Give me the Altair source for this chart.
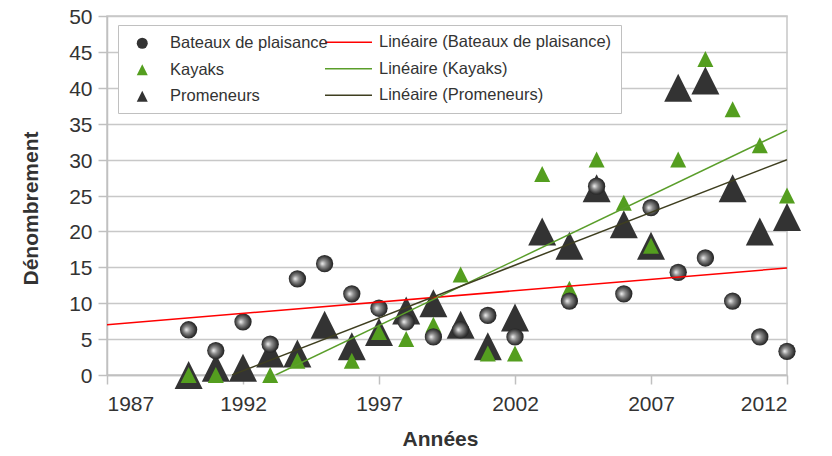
import altair as alt
import pandas as pd

# ---------------- data ----------------
bateaux_years = [1990, 1991, 1992, 1993, 1994, 1995, 1996, 1997, 1998, 1999, 2000,
                 2001, 2002, 2004, 2005, 2006, 2007, 2008, 2009, 2010, 2011, 2012]
bateaux_vals = [6.3, 3.4, 7.4, 4.3, 13.4, 15.5, 11.3, 9.3, 7.4, 5.3, 6.3,
                8.3, 5.3, 10.3, 26.3, 11.3, 23.3, 14.3, 16.3, 10.3, 5.3, 3.3]

kayak_years = [1990, 1991, 1993, 1994, 1996, 1997, 1998, 1999, 2000, 2001, 2002,
               2003, 2004, 2005, 2006, 2007, 2008, 2009, 2010, 2011, 2012]
kayak_vals = [0, 0, 0, 2, 2, 6, 5, 7, 14, 3, 3,
              28, 12, 30, 24, 18, 30, 44, 37, 32, 25]

prom_years = list(range(1990, 2013))
prom_vals = [0, 1, 1, 3, 3, 7, 4, 6, 9, 10, 7, 4, 8,
             20, 18, 26, 21, 18, 40, 41, 26, 20, 22]

# trend lines (end points)
trend_series = ["Linéaire (Bateaux de plaisance)", "Linéaire (Bateaux de plaisance)",
                "Linéaire (Kayaks)", "Linéaire (Kayaks)",
                "Linéaire (Promeneurs)", "Linéaire (Promeneurs)"]
trend_x = [1987, 2012, 1993.2, 2012, 1991.6, 2012]
trend_y = [7.0, 14.9, 0.0, 34.1, 0.0, 30.0]

point_names = ["Bateaux de plaisance", "Kayaks", "Promeneurs"]
point_colors = ["#333333", "#549e1f", "#333333"]
line_names = ["Linéaire (Bateaux de plaisance)", "Linéaire (Kayaks)", "Linéaire (Promeneurs)"]
line_colors = ["#ff0000", "#5a9e2a", "#3f3f20"]

x_ticks = [1987, 1992, 1997, 2002, 2007, 2012]
y_ticks = list(range(0, 51, 5))

# ---------------- tables ----------------
df_bat = pd.DataFrame({"year": bateaux_years, "value": bateaux_vals,
                       "series": "Bateaux de plaisance"})
df_kay = pd.DataFrame({"year": kayak_years, "value": kayak_vals, "series": "Kayaks"})
df_prom = pd.DataFrame({"year": prom_years, "value": prom_vals, "series": "Promeneurs"})
df_trend = pd.DataFrame({"year": trend_x, "value": trend_y, "series": trend_series})

FONT = "Liberation Sans"
TRI = "M0,-1L1,1L-1,1Z"

xaxis = alt.Axis(values=x_ticks, format="d", title="Années", grid=False, orient="bottom",
                 tickSize=9, labelPadding=9, labelFontSize=21, labelColor="#333333",
                 labelFont=FONT, titleFont=FONT, titleFontSize=21, titleFontWeight="bold",
                 titleColor="#333333", titleX=333, titleY=70, titleBaseline="alphabetic")
yaxis = alt.Axis(values=y_ticks, title="Dénombrement", grid=True, orient="left",
                 tickSize=9, labelPadding=6, labelFontSize=21, labelColor="#333333",
                 labelOffset=1.5,
                 labelFont=FONT, titleFont=FONT, titleFontSize=21, titleFontWeight="bold",
                 titleColor="#333333", titleX=-70, titleY=192, titleBaseline="alphabetic")

X = alt.X("year:Q", scale=alt.Scale(domain=[1987, 2012], nice=False, zero=False), axis=xaxis)
Y = alt.Y("value:Q", scale=alt.Scale(domain=[0, 50], nice=False), axis=yaxis)

leg_points = alt.Legend(
    title=None, orient="none", legendX=27, legendY=19, padding=0, rowPadding=9.5,
    clipHeight=16.5,
    labelFont=FONT, labelFontSize=16.5, labelColor="#333333", labelLimit=400,
    symbolSize=121, symbolStrokeWidth=0, labelOffset=19.5, symbolOpacity=1, zindex=2,
)
leg_lines = alt.Legend(
    title="\u00a0", titleOrient="left", titlePadding=197, titleFontSize=10, titleOpacity=0,
    orient="none", legendX=11, legendY=9, padding=9, rowPadding=9.5, clipHeight=16.5,
    strokeColor="#c0c0c0", fillColor="white",
    labelFont=FONT, labelFontSize=16.5, labelColor="#333333", labelLimit=400,
    symbolType="stroke", symbolSize=2209, symbolStrokeWidth=1.5, labelOffset=6,
    symbolOpacity=1, zindex=1,
)

pt_fill = alt.Fill("series:N", scale=alt.Scale(domain=point_names, range=point_colors),
                   legend=leg_points)
pt_shape = alt.Shape("series:N", scale=alt.Scale(domain=point_names,
                                                 range=["circle", TRI, TRI]),
                     legend=leg_points)
ln_stroke = alt.Stroke("series:N", scale=alt.Scale(domain=line_names, range=line_colors),
                       legend=leg_lines)

prom = alt.Chart(df_prom).mark_point(filled=True, opacity=1, size=784,
                                     strokeWidth=0).encode(x=X, y=Y, fill=pt_fill,
                                                           shape=pt_shape)
kay = alt.Chart(df_kay).mark_point(filled=True, opacity=1, size=256,
                                   strokeWidth=0).encode(x=X, y=Y, fill=pt_fill,
                                                         shape=pt_shape)
sphere = {"gradient": "radial", "x1": 0.36, "y1": 0.5, "r1": 0.0,
          "x2": 0.5, "y2": 0.5, "r2": 0.55,
          "stops": [{"offset": 0, "color": "#f2f2f2"},
                    {"offset": 0.35, "color": "#8c8c8c"},
                    {"offset": 0.8, "color": "#333333"},
                    {"offset": 1, "color": "#1a1a1a"}]}
bat = alt.Chart(df_bat).mark_point(filled=True, opacity=1, size=300,
                                   strokeWidth=0, fill=sphere).encode(x=X, y=Y,
                                                                      shape=pt_shape)
trend = alt.Chart(df_trend).mark_line(strokeWidth=1.5, clip=True).encode(
    x=X, y=Y, stroke=ln_stroke)

chart = alt.layer(prom, kay, bat, trend).properties(
    width=680, height=359,
    padding={"left": 99, "top": 8, "right": 37, "bottom": 73},
    autosize=alt.AutoSizeParams(type="none"),
    background="white",
).configure_view(
    stroke="#c6c6c6", strokeWidth=1.5
).configure_axis(
    domainColor="#c0c0c0", domainWidth=1.5, tickColor="#c0c0c0", tickWidth=1.5,
    gridColor="#c8c8c8", gridWidth=1.5
)

chart.save("out.html", embed_options={"renderer": "svg", "actions": False})
